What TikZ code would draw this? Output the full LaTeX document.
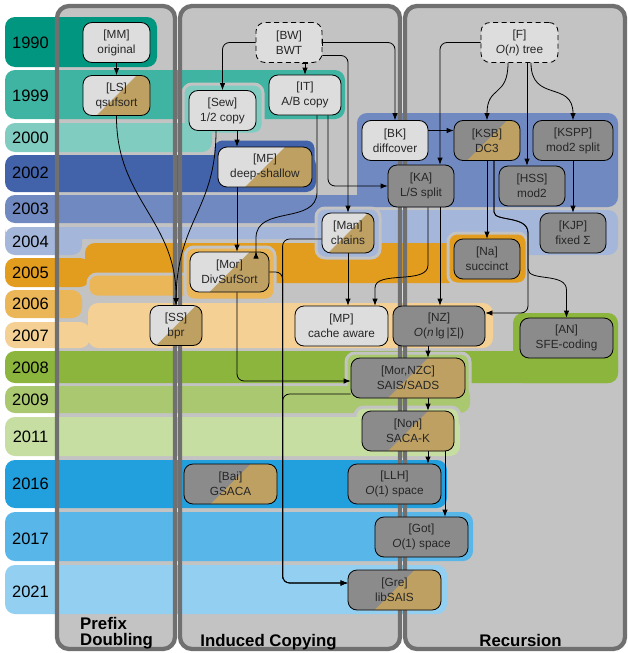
\documentclass[tikz,border=0pt]{standalone}
\usepackage{fontspec}
\setmainfont{Liberation Sans}
\usetikzlibrary{arrows.meta,calc}
\definecolor{panelgray}{RGB}{195,195,195}
\definecolor{panelline}{RGB}{112,112,112}
\definecolor{nodelight}{RGB}{221,221,221}
\definecolor{nodedark}{RGB}{139,139,139}
\definecolor{nodetan}{RGB}{190,160,98}
\definecolor{txt}{RGB}{38,38,38}
\definecolor{c1990}{RGB}{0,150,128}
\definecolor{c1999}{RGB}{64,180,162}
\definecolor{c2000}{RGB}{128,204,193}
\definecolor{c2002}{RGB}{66,98,170}
\definecolor{c2003}{RGB}{112,137,192}
\definecolor{c2004}{RGB}{164,182,218}
\definecolor{c2005}{RGB}{226,156,30}
\definecolor{c2006}{RGB}{234,182,88}
\definecolor{c2007}{RGB}{244,208,148}
\definecolor{c2008}{RGB}{139,181,61}
\definecolor{c2009}{RGB}{170,200,112}
\definecolor{c2011}{RGB}{198,222,162}
\definecolor{c2016}{RGB}{34,160,222}
\definecolor{c2017}{RGB}{88,182,232}
\definecolor{c2021}{RGB}{146,207,241}
\newcommand\algfont{\fontsize{11.8}{15}\selectfont}
\newcommand\yearfont{\fontsize{16.5}{18}\selectfont}
\newcommand\colfont{\fontsize{16.8}{15.5}\selectfont\bfseries}
\tikzset{
  alg/.style={draw=black, line width=0.8pt, rounded corners=9pt, inner sep=0pt,
    minimum height=40pt, align=center, font=\algfont, text=txt},
  light/.style={alg, fill=nodelight},
  dark/.style={alg, fill=nodedark},
  tanhalf/.style={path picture={\fill[nodetan]
      ($(path picture bounding box.center)+(-60pt,-60pt)$) --
      ($(path picture bounding box.center)+(60pt,60pt)$) --
      ($(path picture bounding box.center)+(60pt,-60pt)$) -- cycle;}},
  lighttan/.style={light, tanhalf},
  darktan/.style={dark, tanhalf},
  ghost/.style={light, dash pattern=on 5pt off 3.5pt},
  band/.style={rounded corners=10pt},
  halo/.style={draw=panelgray, line width=3pt, rounded corners=9pt},
  panel/.style={rounded corners=12pt},
  yr/.style={font=\yearfont, inner sep=0pt, text=black},
  collabel/.style={font=\colfont, inner sep=0pt, text=black},
  arr/.style={->, line width=0.8pt, rounded corners=7pt},
  tickarr/.style={arr, |->},
}
\begin{document}
\begin{tikzpicture}[x=1pt, y=-1pt, >={Latex[length=7pt,width=5.5pt]}]
\path[use as bounding box, fill=white] (0,0) rectangle (627,653);
\fill[panelgray, panel] (57,6) rectangle (175,649);
\fill[panelgray, panel] (180,6) rectangle (400,649);
\fill[panelgray, panel] (405,6) rectangle (625,649);
\fill[c1990, band] (5,17) rectangle (157,67);
\fill[c1999, band] (5,70) rectangle (345,119);
\path[halo, fill=c2000] (183,84) rectangle (263,134);
\fill[c2000, band] (5,123) rectangle (212,152);
\path[halo, fill=c2002] (213,139) rectangle (316,193);
\fill[c2002, band] (5,155) rectangle (316,192);
\fill[c2003, band] (5,195) rectangle (372,223);
\fill[c2003, band] (357,113) rectangle (618,207);
\fill[c2004, band] (5,227) rectangle (82,255);
\fill[c2004, band] (5,227) rectangle (330,239);
\fill[c2004, band] (316,210) rectangle (618,255);
\fill[c2005, band] (5,258) rectangle (90,287);
\fill[c2005, band] (85,243) rectangle (460,283);
\path[halo, fill=c2005] (448,233) rectangle (527,284);
\fill[c2006, band] (5,290) rectangle (82,318);
\path[halo, fill=c2006] (88,274) rectangle (195,297);
\path[halo, fill=c2006] (185,247) rectangle (275,300);
\path[halo, fill=c2004] (316,208) rectangle (380,258);
\fill[c2007, band] (5,322) rectangle (90,348);
\fill[c2007, band] (88,303) rectangle (493,348);
\fill[c2008, band] (5,351) rectangle (618,383);
\fill[c2008, band] (513,313) rectangle (618,383);
\path[halo, fill=c2009] (346,353) rectangle (470,413);
\fill[c2009, band] (5,386) rectangle (470,413);
\path[halo, fill=c2011] (355,407) rectangle (460,456);
\fill[c2011, band] (5,417) rectangle (460,456);
\fill[c2016, band] (5,460) rectangle (447,508);
\fill[c2017, band] (5,512) rectangle (473,561);
\fill[c2021, band] (5,565) rectangle (447,614);
\draw[panelline, line width=4.3pt, panel] (57,6) rectangle (175,649);
\draw[panelline, line width=4.3pt, panel] (180,6) rectangle (400,649);
\draw[panelline, line width=4.3pt, panel] (405,6) rectangle (625,649);
\node[yr] (y1990) at (30.5,42.7) {1990};
\node[yr] (y1999) at (30.5,96) {1999};
\node[yr] (y2000) at (30.5,137.7) {2000};
\node[yr] (y2002) at (30.5,173) {2002};
\node[yr] (y2003) at (30.5,209) {2003};
\node[yr] (y2004) at (30.5,241.7) {2004};
\node[yr] (y2005) at (30.5,272.7) {2005};
\node[yr] (y2006) at (30.5,304) {2006};
\node[yr] (y2007) at (30.5,336) {2007};
\node[yr] (y2008) at (30.5,367.7) {2008};
\node[yr] (y2009) at (30.5,400) {2009};
\node[yr] (y2011) at (30.5,436.7) {2011};
\node[yr] (y2016) at (30.5,484) {2016};
\node[yr] (y2017) at (30.5,539) {2017};
\node[yr] (y2021) at (30.5,592) {2021};
\node[collabel, anchor=west, align=left] (pd) at (80,633) {Prefix\\Doubling};
\node[collabel, anchor=base] (ic) at (268.5,646) {Induced Copying};
\node[collabel, anchor=base] (rc) at (520.5,646) {Recursion};
\node[light, minimum width=67pt] (MM) at (116.5,42.5) {[MM]\\original};
\node[lighttan, minimum width=67pt] (LS) at (116.5,95.5) {[LS]\\qsufsort};
\node[ghost, minimum width=66pt] (BW) at (289,42.5) {[BW]\\BWT};
\node[light, minimum width=72pt] (IT) at (305,95) {[IT]\\A/B copy};
\node[light, minimum width=67pt] (Sew) at (222.5,110.5) {[Sew]\\1/2 copy};
\node[lighttan, minimum width=94pt] (MF) at (265,167) {[MF]\\deep-shallow};
\node[ghost, minimum width=77pt] (F) at (519.5,42.5) {[F]\\\textit{O}(\textit{n}) tree};
\node[light, minimum width=66pt] (BK) at (395,140.5) {[BK]\\diffcover};
\node[darktan, minimum width=66pt] (KSB) at (487,140.5) {[KSB]\\DC3};
\node[dark, minimum width=80pt] (KSPP) at (573,140.5) {[KSPP]\\mod2 split};
\node[dark, minimum width=66pt, minimum height=42pt] (KA) at (421,186) {[KA]\\L/S split};
\node[dark, minimum width=66pt] (HSS) at (532,186) {[HSS]\\mod2};
\node[dark, minimum width=66pt] (KJP) at (573,233) {[KJP]\\fixed Σ};
\node[lighttan, minimum width=52pt] (Man) at (348,233) {[Man]\\chains};
\node[dark, minimum width=66pt] (Na) at (487,259) {[Na]\\succinct};
\node[lighttan, minimum width=79pt] (Mor) at (229.5,272) {[Mor]\\DivSufSort};
\node[lighttan, minimum width=52pt] (SS) at (176,325.5) {[SS]\\bpr};
\node[light, minimum width=93pt] (MP) at (341.5,326) {[MP]\\cache aware};
\node[dark, minimum width=92pt] (NZ) at (439,326) {[NZ]\\\textit{O}(\textit{n}\,lg\,|Σ|)};
\node[dark, minimum width=93pt] (AN) at (566.5,338) {[AN]\\SFE-coding};
\node[darktan, minimum width=114pt] (MorNZC) at (408,378) {[Mor,NZC]\\SAIS/SADS};
\node[darktan, minimum width=92pt] (Non) at (408,431) {[Non]\\SACA-K};
\node[darktan, minimum width=93pt] (Bai) at (230.5,484) {[Bai]\\GSACA};
\node[dark, minimum width=93pt] (LLH) at (394.5,484) {[LLH]\\\textit{O}(1) space};
\node[dark, minimum width=93pt] (Got) at (421.5,537) {[Got]\\\textit{O}(1) space};
\node[darktan, minimum width=93pt] (Gre) at (394.5,590) {[Gre]\\libSAIS};
\draw[arr] (MM) -- (LS);
\draw[arr] (LS.south) .. controls (116,200) and (177,220) .. (SS.north);
\draw[arr] ([xshift=-6.5pt]Sew.south) .. controls (216,210) and (177,220) .. (SS.north);
\draw[arr] ([xshift=14.5pt]Sew.south) -- ([xshift=-28pt]MF.north);
\draw[arr] (BW.west) -| (Sew.north);
\draw[tickarr] (BW.south -| IT.north) -- (IT.north);
\draw[tickarr] (BW.east) -| (BK.north);
\draw[arr] ([yshift=-13pt]BW.east) -| (Man.north);
\draw[arr] ([xshift=23pt]IT.south) |- (KA.west);
\draw[arr] ([xshift=12pt]IT.south) -- (317,185) .. controls (317,225) and (256,205) .. (256,245) -- ([xshift=26.5pt]Mor.north);
\draw[arr] ([xshift=-28pt]MF.south) -- ([xshift=7.5pt]Mor.north);
\draw[arr] (F.west) -| ([xshift=19pt]KA.north);
\draw[arr] ([xshift=-11.5pt]F.south) .. controls +(0,35) and +(0,-35) .. (KSB.north);
\draw[arr] ([xshift=7.5pt]F.south) -- ([xshift=-5pt]HSS.north);
\draw[arr] ([xshift=11.5pt]F.south) .. controls +(0,40) and +(0,-40) .. (KSPP.north);
\draw[arr] ([yshift=10pt]BK.east) -- ([yshift=10pt]KSB.west);
\draw[arr] (KSPP) -- (KJP);
\draw[arr] (KSB) -- (Na);
\draw[arr] ([xshift=7pt]KSB.south) -- (494,205) .. controls (494,222) and (528,215) .. (528,240) |- ([yshift=13pt]NZ.east);
\draw[arr] ([xshift=7pt]KSB.south) -- (494,205) .. controls (494,222) and (528,215) .. (528,240) -- (528,262) .. controls (528,282) and (566.5,272) .. (566.5,297) -- (AN.north);
\draw[arr] ([xshift=7pt]KA.south) -- (428,258) .. controls (428,285) and (375,270) .. (375,295) -- ([xshift=33.5pt]MP.north);
\draw[arr] ([xshift=19pt]KA.south) -- ([xshift=1pt]NZ.north);
\draw[arr] (Man.south) -- ([xshift=6.5pt]MP.north);
\draw[arr] ([yshift=-6pt]Man.west) -| ([xshift=-65pt,yshift=7pt]Gre.west) -- ([yshift=7pt]Gre.west);
\draw[arr] (Mor.east) -| ([xshift=-65pt,yshift=7pt]Gre.west) -- ([yshift=7pt]Gre.west);
\draw[arr] ([yshift=-16pt]MorNZC.west) -| ([xshift=-65pt,yshift=7pt]Gre.west) -- ([yshift=7pt]Gre.west);
\draw[arr] ([xshift=7.5pt]Mor.south) |- ([yshift=-3pt]MorNZC.west);
\draw[arr] ([xshift=-11pt]NZ.south) -- ([xshift=20pt]MorNZC.north);
\draw[arr] ([xshift=20pt]MorNZC.south) -- ([xshift=20pt]Non.north);
\draw[arr] ([xshift=20pt]Non.south) -- ([xshift=33.5pt]LLH.north);
\draw[arr] ([xshift=37pt]Non.south) -- ([xshift=23.5pt]Got.north);
\end{tikzpicture}
\end{document}
